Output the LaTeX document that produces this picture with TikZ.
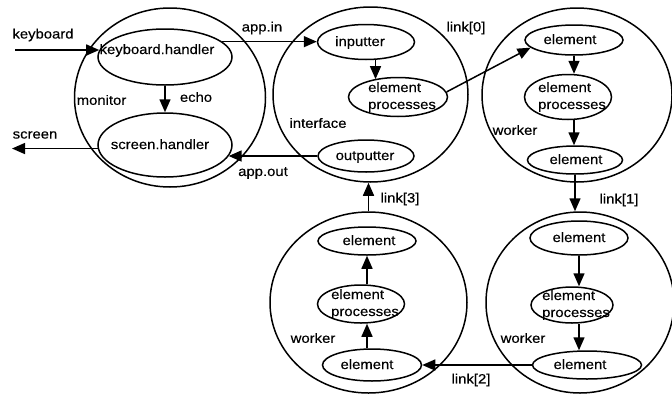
\documentclass[tikz,border=0pt]{standalone}
\usepackage{fontspec}
\setmainfont{Liberation Sans}[FakeStretch=1.1,FakeBold=0.3]
\usetikzlibrary{shapes.geometric,arrows.meta}
\newcommand\ztx[3]{\makebox[0pt]{\hspace*{#1}\hspace*{#1}\raisebox{#2}[0pt][0pt]{#3}}}
\newcommand\zz[1]{\makebox[0pt]{\hspace*{8pt}\raisebox{5pt}[0pt][0pt]{\begin{tabular}[t]{@{}l@{}}#1\end{tabular}}}}
\begin{document}
\begin{tikzpicture}[x=1pt,y=-1pt, font=\fontsize{13.5}{17}\selectfont, line width=1.5pt,
  big/.style={ellipse, draw, inner sep=0pt},
  el/.style={ellipse, draw, inner sep=0pt},
  arr/.style={-{Triangle[length=13pt,width=11pt]}},
  lbl/.style={inner sep=0pt}]
\useasboundingbox (0,0) rectangle (672,394);

% outer processes
\node[big, minimum width=191pt, minimum height=179pt] (mon) at (170,97.5) {};
\node[big, minimum width=195pt, minimum height=175pt] (intf) at (370.5,94.5) {};
\node[big, minimum width=190pt, minimum height=174pt] (wa) at (577,95) {};
\node[big, minimum width=197pt, minimum height=181pt] (wc) at (368.5,302.5) {};
\node[big, minimum width=188pt, minimum height=181pt] (wb) at (580,302.5) {};

% inner processes
\node[el, minimum width=134pt, minimum height=56pt] (kbh) at (165,57) {\ztx{-8pt}{3pt}{keyboard.handler}};
\node[el, minimum width=134pt, minimum height=64pt] (sch) at (165,145) {\ztx{-5pt}{-4pt}{screen.handler}};
\node[el, minimum width=97pt, minimum height=35pt] (inp) at (366,42) {\ztx{-6pt}{-4pt}{inputter}};
\node[el, minimum width=99pt, minimum height=39pt] (iep) at (398,97) {\zz{element\\processes}};
\node[el, minimum width=96pt, minimum height=32pt] (outp) at (366,156) {\ztx{-1pt}{-4pt}{outputter}};

\node[el, minimum width=98pt, minimum height=30pt] (wa1) at (574,40) {\ztx{-4pt}{-4pt}{element}};
\node[el, minimum width=87pt, minimum height=45pt] (wap) at (568,97) {\zz{element\\processes}};
\node[el, minimum width=95pt, minimum height=28pt] (wa2) at (575,160) {\ztx{1pt}{-4pt}{element}};

\node[el, minimum width=98pt, minimum height=34pt] (wb1) at (579,238) {\ztx{0pt}{-4pt}{element}};
\node[el, minimum width=82pt, minimum height=36pt] (wbp) at (572,305) {\zz{element\\processes}};
\node[el, minimum width=109pt, minimum height=28pt] (wb2) at (587,365) {\ztx{-7pt}{-4pt}{element}};

\node[el, minimum width=98pt, minimum height=28pt] (wc1) at (367,241) {\ztx{2pt}{-4pt}{element}};
\node[el, minimum width=87pt, minimum height=38pt] (wcp) at (361,304) {\zz{element\\processes}};
\node[el, minimum width=99pt, minimum height=32pt] (wc2) at (372,365) {\ztx{-5pt}{-4pt}{element}};

% labels
\node[lbl] (lkb) at (43,35) {keyboard};
\node[lbl] (lsc) at (35,135) {screen};
\node[lbl, anchor=west] (lmon) at (76,100) {monitor};
\node[lbl] (lecho) at (196,97) {echo};
\node[lbl] (lappin) at (262,28) {app.in};
\node[lbl] (lappout) at (263,173) {app.out};
\node[lbl] (lintf) at (318,123) {interface};
\node[lbl] (ll0) at (466,28) {link[0]};
\node[lbl] (lwa) at (515,130) {worker};
\node[lbl] (ll1) at (619,200) {link[1]};
\node[lbl] (ll2) at (471,380) {link[2]};
\node[lbl] (ll3) at (400,199) {link[3]};
\node[lbl] (lwb) at (523,338) {worker};
\node[lbl] (lwc) at (313,338) {worker};

% connectors
\coordinate (kbin) at (15,50);
\coordinate (scout) at (12,148);
\draw[arr] (kbin) -- (kbin -| kbh.174);
\draw[arr] (sch.183) -- (sch.183 -| scout);
\draw[arr] (kbh.south) -- (sch.north);
\draw[arr] (kbh.15) -- (kbh.15 -| inp.west);
\draw[arr] (outp.west) -- (outp.west -| sch.350);
\draw[arr] (inp.-62) -- (inp.-62 |- iep.143);
\draw[arr] (iep.6) -- (wa1.190);
\draw[arr] (wa1.south) -- (wa1.south |- wap.north);
\draw[arr] (wa1.south |- wap.south) -- (wa1.south |- wa2.north);
\draw[arr] (wa2.south) -- (wa2.south |- wb.north);
\draw[arr] (wb1.south) -- (wb1.south |- wbp.north);
\draw[arr] (wb1.south |- wbp.south) -- (wb1.south |- wb2.north);
\draw[arr] (wb2.west) -- (wc2.east);
\draw[arr] (wc1.south |- wc2.north) -- (wc1.south |- wcp.south);
\draw[arr] (wc1.south |- wcp.north) -- (wc1.south);
\draw[arr] (wc.north) -- (wc.north |- intf.south);
\end{tikzpicture}
\end{document}
